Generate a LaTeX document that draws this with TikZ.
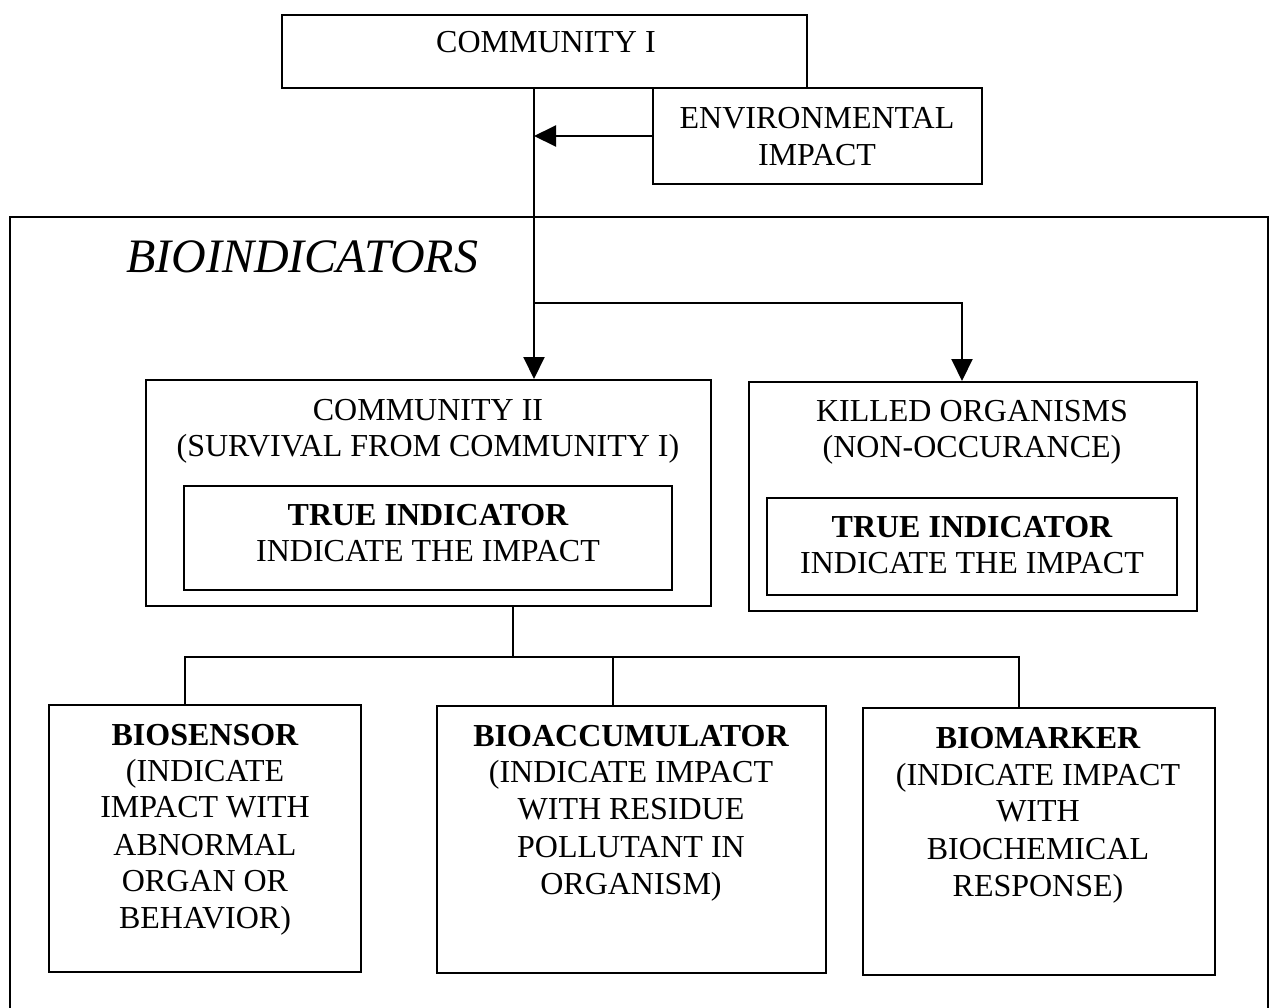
\documentclass[tikz,border=0pt]{standalone}
\usepackage{fontspec}
\setmainfont{Liberation Serif}
\usetikzlibrary{arrows.meta}
\begin{document}
\begin{tikzpicture}[x=1pt,y=-1pt,
  box/.style={draw,line width=2pt,inner sep=0pt,minimum width=#1},
  txt/.style={inner sep=0pt,anchor=base,font=\fontsize{32}{36}\selectfont},
  btxt/.style={txt,font=\fontsize{32}{36}\selectfont\bfseries},
  conn/.style={line width=2pt},
  arr/.style={line width=2pt,-{Triangle[length=22pt,width=21pt]}}]
\useasboundingbox (0,0) rectangle (1280,1007);
% boxes
\node[box=525pt,minimum height=73pt] (c1) at (544.5,51.5) {};
\node[box=329pt,minimum height=96pt] (env) at (817.5,136) {};
\node[box=565pt,minimum height=226pt] (c2) at (428.5,493) {};
\node[box=488pt,minimum height=104pt] (c2in) at (428,538) {};
\node[box=448pt,minimum height=229pt] (kill) at (973,496.5) {};
\node[box=410pt,minimum height=97pt] (killin) at (972,546.5) {};
\node[box=312pt,minimum height=267pt] (bs) at (205,838.5) {};
\node[box=389pt,minimum height=267pt] (ba) at (631.5,839.5) {};
\node[box=352pt,minimum height=267pt] (bm) at (1039,841.5) {};
% big frame
\draw[line width=2pt] (10,1010) -- (10,217) -- (1268,217) -- (1268,1010);
% texts
\node[txt] (t1) at (546,52.6) {COMMUNITY I};
\node[txt] (te1) at (817,128.6) {ENVIRONMENTAL};
\node[txt] (te2) at (817,165.6) {IMPACT};
\node[inner sep=0pt,anchor=base west,font=\fontsize{48}{54}\selectfont\itshape] (tbio) at (126,272) {BIOINDICATORS};
\node[txt] (tc21) at (428,420.6) {COMMUNITY II};
\node[txt] (tc22) at (428,456.6) {(SURVIVAL FROM COMMUNITY I)};
\node[btxt] (tc23) at (428,525.6) {TRUE INDICATOR};
\node[txt] (tc24) at (428,561.6) {INDICATE THE IMPACT};
\node[txt] (tk1) at (972,421.6) {KILLED ORGANISMS};
\node[txt] (tk2) at (972,457.6) {(NON-OCCURANCE)};
\node[btxt] (tk3) at (972,537.6) {TRUE INDICATOR};
\node[txt] (tk4) at (972,573.6) {INDICATE THE IMPACT};
\node[btxt] (ts1) at (205,745.6) {BIOSENSOR};
\node[txt] (ts2) at (205,781.6) {(INDICATE};
\node[txt] (ts3) at (205,817.6) {IMPACT WITH};
\node[txt] (ts4) at (205,855.6) {ABNORMAL};
\node[txt] (ts5) at (205,891.6) {ORGAN OR};
\node[txt] (ts6) at (205,928.6) {BEHAVIOR)};
\node[btxt] (ta1) at (631,746.6) {BIOACCUMULATOR};
\node[txt] (ta2) at (631,782.6) {(INDICATE IMPACT};
\node[txt] (ta3) at (631,819.6) {WITH RESIDUE};
\node[txt] (ta4) at (631,857.6) {POLLUTANT IN};
\node[txt] (ta5) at (631,894.6) {ORGANISM)};
\node[btxt] (tm1) at (1038,748.6) {BIOMARKER};
\node[txt] (tm2) at (1038,785.6) {(INDICATE IMPACT};
\node[txt] (tm3) at (1038,821.6) {WITH};
\node[txt] (tm4) at (1038,859.6) {BIOCHEMICAL};
\node[txt] (tm5) at (1038,896.6) {RESPONSE)};
% connector coordinates
\coordinate (trunk) at (534,303);
\coordinate (envj) at (534,136);
\coordinate (killx) at (962,303);
\coordinate (bus) at (513,657);
% connectors
\draw[arr] (c1.south -| trunk) -- (c2.north -| trunk);
\draw[arr] (env.west |- envj) -- (envj);
\draw[arr] (trunk) -- (killx) -- (kill.north -| killx);
\draw[conn] (c2.south -| bus) -- (bus);
\draw[conn] (bs.north -| 185,0) -- (185,657) -- (1019,657) -- (bm.north -| 1019,0);
\draw[conn] (613,657) -- (ba.north -| 613,0);
\end{tikzpicture}
\end{document}
